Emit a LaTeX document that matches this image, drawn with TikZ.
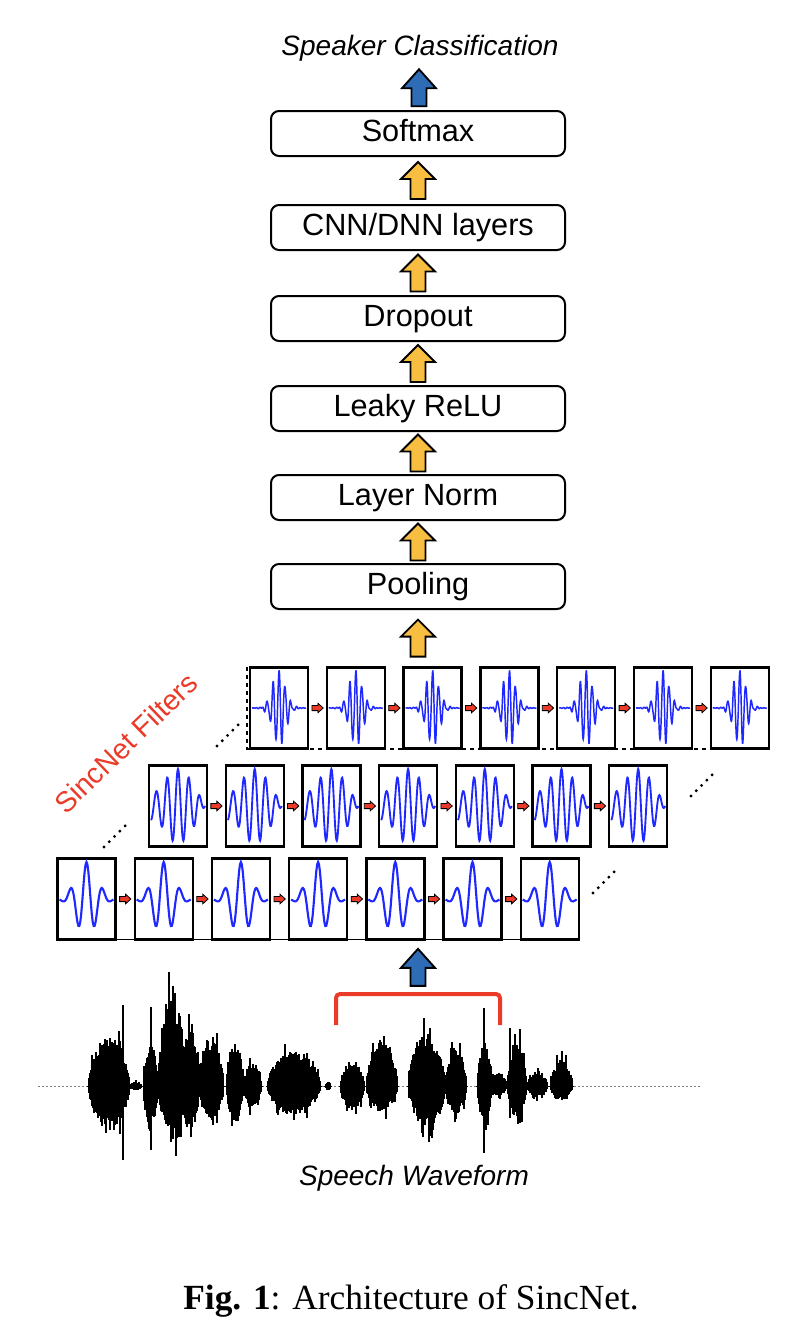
\documentclass[tikz,border=0pt]{standalone}
\usepackage{fontspec}
\setmainfont{Liberation Serif}
\setsansfont{Liberation Sans}
\usetikzlibrary{calc}
\definecolor{upyellow}{RGB}{247,190,66}
\definecolor{upblue}{RGB}{46,108,182}
\definecolor{sincred}{RGB}{234,58,40}
\definecolor{sincblue}{RGB}{30,40,255}
\newcommand\lowf{cos(600*\x)*exp(-\x*\x/0.28)}
\newcommand\midf{cos(900*\x)*exp(-\x*\x/0.6)*(1-\x^8)}
\newcommand\highf{cos(1640*\x)*exp(-\x*\x/0.11)+0.08*sin(2900*\x)*exp(-\x*\x/0.35)}
% fat arrow pointing up: centre, fill, head length
\newcommand\fatup[3]{%
  \draw[line width=1.4pt,fill=#2] (#1) +(-7.5,18.5) -- +(-7.5,{-18.5+#3}) -- +(-17,{-18.5+#3}) -- +(0,-18.5)
    -- +(17,{-18.5+#3}) -- +(7.5,{-18.5+#3}) -- +(7.5,18.5) -- cycle;}
% small red arrow pointing right
\newcommand\redright[1]{%
  \draw[line width=0.6pt,fill=sincred] (#1) +(-5.5,-2.6) -- +(0.5,-2.6) -- +(0.5,-4.8) -- +(5.8,0)
    -- +(0.5,4.8) -- +(0.5,2.6) -- +(-5.5,2.6) -- cycle;}
% one burst of speech: from, to, height above, depth below
\newcommand\wavepart[4]{%
  \foreach \x in {#1,...,#2}{
    \pgfmathsetmacro\env{pow(abs(sin(180*(\x-#1)/(#2-#1)))+0.0001,0.6)}
    \pgfmathsetmacro\hu{#3*\env*(0.62+0.3*rnd+0.3*(rnd>0.88))}
    \pgfmathsetmacro\hd{#4*\env*(0.62+0.3*rnd+0.3*(rnd>0.88))}
    \draw[speech] (\x,{1086-\hu}) -- (\x,{1086+\hd});
  }}
\begin{document}
\begin{tikzpicture}[x=0.75pt,y=-0.75pt,
  layer/.style={draw,line width=1.5pt,rounded corners=6pt,minimum width=220.5pt,minimum height=33.75pt,inner sep=0pt,font=\sffamily\fontsize{23}{27}\selectfont,text height=17pt,text depth=4.4pt},
  filt/.style={draw,line width=1.8pt,minimum width=43.5pt,minimum height=60.75pt,inner sep=0pt},
  lowwave/.style={sincblue,line width=1.6pt},
  midwave/.style={sincblue,line width=1.4pt},
  highwave/.style={sincblue,line width=1.1pt},
  dots/.style={line width=2.4pt,line cap=round,dash pattern=on 0pt off 5.6pt},
  speech/.style={line width=0.9pt},
  label/.style={font=\sffamily\itshape\fontsize{21}{25}\selectfont}]
\useasboundingbox (0,0) rectangle (810,1332);
\node[label,anchor=base] (out) at (420,55) {Speaker Classification};
\node[layer] (soft) at (418,133.5) {Softmax};
\node[layer] (cnn) at (418,227.5) {CNN/DNN layers};
\node[layer] (drop) at (418,318.5) {Dropout};
\node[layer] (relu) at (418,408.5) {Leaky ReLU};
\node[layer] (norm) at (418,497.5) {Layer Norm};
\node[layer] (pool) at (418,586.5) {Pooling};
\coordinate (u0) at ($(out.south)!0.5!(soft.north)$);
\coordinate (u1) at ($(cnn.north)!0.5!(soft.south)$);
\coordinate (u2) at ($(drop.north)!0.5!(cnn.south)$);
\coordinate (u3) at ($(relu.north)!0.5!(drop.south)$);
\coordinate (u4) at ($(norm.north)!0.5!(relu.south)$);
\coordinate (u5) at ($(pool.north)!0.5!(norm.south)$);
\fatup{u0}{upblue}{19}
\fatup{u1}{upyellow}{17}
\fatup{u2}{upyellow}{17}
\fatup{u3}{upyellow}{17}
\fatup{u4}{upyellow}{17}
\fatup{u5}{upyellow}{17}
% top row of filters
\draw[dashed,line width=0.8pt] (246,749) -- (769,749);
\draw[dashed,line width=1.2pt] (247,667) -- (247,749);
\node[filt] (fc1) at (279,708) {};
\node[filt] (fc2) at (355.8,708) {};
\node[filt] (fc3) at (432.6,708) {};
\node[filt] (fc4) at (509.4,708) {};
\node[filt] (fc5) at (586.2,708) {};
\node[filt] (fc6) at (663,708) {};
\node[filt] (fc7) at (739.8,708) {};
\coordinate (u6) at ($(pool.south)!0.5!(pool.south |- fc3.north)$);
\fatup{u6}{upyellow}{17}
\draw[highwave,shift={(fc1.center)}] plot[domain=-1:1,samples=201] ({27*\x},{-37*(\highf)});
\draw[highwave,shift={(fc2.center)}] plot[domain=-1:1,samples=201] ({27*\x},{-37*(\highf)});
\draw[highwave,shift={(fc3.center)}] plot[domain=-1:1,samples=201] ({27*\x},{-37*(\highf)});
\draw[highwave,shift={(fc4.center)}] plot[domain=-1:1,samples=201] ({27*\x},{-37*(\highf)});
\draw[highwave,shift={(fc5.center)}] plot[domain=-1:1,samples=201] ({27*\x},{-37*(\highf)});
\draw[highwave,shift={(fc6.center)}] plot[domain=-1:1,samples=201] ({27*\x},{-37*(\highf)});
\draw[highwave,shift={(fc7.center)}] plot[domain=-1:1,samples=201] ({27*\x},{-37*(\highf)});
\coordinate (rc1) at ($(fc1.east)!0.5!(fc2.west)$);
\coordinate (rc2) at ($(fc2.east)!0.5!(fc3.west)$);
\coordinate (rc3) at ($(fc3.east)!0.5!(fc4.west)$);
\coordinate (rc4) at ($(fc4.east)!0.5!(fc5.west)$);
\coordinate (rc5) at ($(fc5.east)!0.5!(fc6.west)$);
\coordinate (rc6) at ($(fc6.east)!0.5!(fc7.west)$);
\redright{rc1} \redright{rc2} \redright{rc3} \redright{rc4} \redright{rc5} \redright{rc6}
% middle row
\node[filt] (fb1) at (178,806) {};
\node[filt] (fb2) at (254.7,806) {};
\node[filt] (fb3) at (331.4,806) {};
\node[filt] (fb4) at (408.1,806) {};
\node[filt] (fb5) at (484.8,806) {};
\node[filt] (fb6) at (561.5,806) {};
\node[filt] (fb7) at (638.2,806) {};
\draw[midwave,shift={(fb1.center)}] plot[domain=-1:1,samples=121] ({27*\x},{-37*(\midf)});
\draw[midwave,shift={(fb2.center)}] plot[domain=-1:1,samples=121] ({27*\x},{-37*(\midf)});
\draw[midwave,shift={(fb3.center)}] plot[domain=-1:1,samples=121] ({27*\x},{-37*(\midf)});
\draw[midwave,shift={(fb4.center)}] plot[domain=-1:1,samples=121] ({27*\x},{-37*(\midf)});
\draw[midwave,shift={(fb5.center)}] plot[domain=-1:1,samples=121] ({27*\x},{-37*(\midf)});
\draw[midwave,shift={(fb6.center)}] plot[domain=-1:1,samples=121] ({27*\x},{-37*(\midf)});
\draw[midwave,shift={(fb7.center)}] plot[domain=-1:1,samples=121] ({27*\x},{-37*(\midf)});
\coordinate (rb1) at ($(fb1.east)!0.5!(fb2.west)$);
\coordinate (rb2) at ($(fb2.east)!0.5!(fb3.west)$);
\coordinate (rb3) at ($(fb3.east)!0.5!(fb4.west)$);
\coordinate (rb4) at ($(fb4.east)!0.5!(fb5.west)$);
\coordinate (rb5) at ($(fb5.east)!0.5!(fb6.west)$);
\coordinate (rb6) at ($(fb6.east)!0.5!(fb7.west)$);
\redright{rb1} \redright{rb2} \redright{rb3} \redright{rb4} \redright{rb5} \redright{rb6}
% bottom row
\draw[line width=0.8pt] (57,939.5) -- (578,939.5);
\node[filt] (fa1) at (86.5,899) {};
\node[filt] (fa2) at (163.7,899) {};
\node[filt] (fa3) at (240.9,899) {};
\node[filt] (fa4) at (318.1,899) {};
\node[filt] (fa5) at (395.3,899) {};
\node[filt] (fa6) at (472.5,899) {};
\node[filt] (fa7) at (549.7,899) {};
\draw[lowwave,shift={(fa1.center)}] plot[domain=-1:1,samples=61] ({27*\x},{-37*(\lowf)});
\draw[lowwave,shift={(fa2.center)}] plot[domain=-1:1,samples=61] ({27*\x},{-37*(\lowf)});
\draw[lowwave,shift={(fa3.center)}] plot[domain=-1:1,samples=61] ({27*\x},{-37*(\lowf)});
\draw[lowwave,shift={(fa4.center)}] plot[domain=-1:1,samples=61] ({27*\x},{-37*(\lowf)});
\draw[lowwave,shift={(fa5.center)}] plot[domain=-1:1,samples=61] ({27*\x},{-37*(\lowf)});
\draw[lowwave,shift={(fa6.center)}] plot[domain=-1:1,samples=61] ({27*\x},{-37*(\lowf)});
\draw[lowwave,shift={(fa7.center)}] plot[domain=-1:1,samples=61] ({27*\x},{-37*(\lowf)});
\coordinate (ra1) at ($(fa1.east)!0.5!(fa2.west)$);
\coordinate (ra2) at ($(fa2.east)!0.5!(fa3.west)$);
\coordinate (ra3) at ($(fa3.east)!0.5!(fa4.west)$);
\coordinate (ra4) at ($(fa4.east)!0.5!(fa5.west)$);
\coordinate (ra5) at ($(fa5.east)!0.5!(fa6.west)$);
\coordinate (ra6) at ($(fa6.east)!0.5!(fa7.west)$);
\redright{ra1} \redright{ra2} \redright{ra3} \redright{ra4} \redright{ra5} \redright{ra6}
% dots
\draw[dots] (217,746) -- (240,723);
\draw[dots] (104,847) -- (127,824);
\draw[dots] (691,796) -- (714,773);
\draw[dots] (593,893) -- (616,870);
\node[font=\sffamily\fontsize{21.5}{25}\selectfont,text=sincred,rotate=44] (sinc) at (126,743) {SincNet Filters};
% window and waveform
\coordinate (win) at (418,994);
\draw[sincred,line width=3pt,rounded corners=3pt] (336,1025) -- (336,994) -- (500,994) -- (500,1025);
\coordinate (u7) at ($(win)!0.5!(pool.south |- fa5.south)$);
\fatup{u7}{upblue}{19}
\draw[gray,line width=0.6pt,dash pattern=on 1.5pt off 1.5pt] (38,1086) -- (700,1086);
\pgfmathsetseed{11}
\wavepart{88}{130}{56}{50}
\wavepart{129}{142}{5}{5}
\wavepart{143}{158}{45}{50}
\wavepart{158}{186}{105}{62}
\wavepart{180}{200}{62}{52}
\wavepart{198}{224}{55}{38}
\wavepart{226}{244}{50}{40}
\wavepart{243}{262}{25}{25}
\wavepart{267}{321}{40}{34}
\wavepart{325}{331}{5}{5}
\wavepart{340}{365}{28}{27}
\wavepart{366}{398}{48}{29}
\wavepart{408}{446}{60}{47}
\wavepart{445}{467}{43}{32}
\wavepart{477}{492}{45}{40}
\wavepart{490}{507}{16}{11}
\wavepart{507}{527}{45}{37}
\wavepart{527}{548}{15}{14}
\wavepart{550}{573}{29}{17}
\draw[speech] (123,1005) -- (123,1160);
\draw[speech] (151,1007) -- (151,1150);
\draw[speech] (169,972) -- (169,1120);
\draw[speech] (484,1008) -- (484,1153);
\draw[speech] (510,1028) -- (510,1118);
\draw[speech] (520,1029) -- (520,1123);
\node[label,anchor=base] (wave) at (414,1185) {Speech Waveform};
\node[anchor=base,font=\fontsize{26.5}{30}\selectfont] (cap) at (411,1309) {\textbf{Fig. 1}: Architecture of SincNet.};
\end{tikzpicture}
\end{document}
